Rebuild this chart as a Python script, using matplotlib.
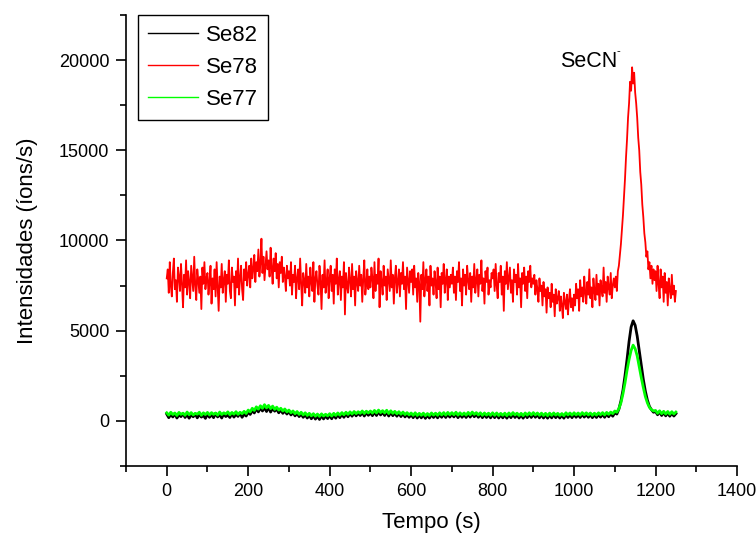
import numpy as np
import matplotlib

matplotlib.use('Agg')
import matplotlib.pyplot as plt
from matplotlib.ticker import MultipleLocator

plt.rcParams['font.family'] = ['Liberation Sans', 'DejaVu Sans']

# Se78 em unidades de 100 ions/s, um ponto a cada 2.5 s
se78 = [
    79, 84, 71, 88, 75, 69, 82, 90, 73, 78, 66, 85, 80, 72, 87, 76, 63, 81, 74, 89,
    70, 83, 77, 68, 86, 79, 72, 91, 75, 67, 84, 78, 71, 80, 62, 85, 76, 88, 73, 79,
    82, 70, 77, 86, 65, 79, 73, 84, 69, 88, 75, 61, 80, 74, 87, 71, 78, 83, 66, 81,
    76, 89, 72, 68, 85, 77, 80, 64, 83, 74, 90, 70, 79, 86, 73, 67, 84, 78, 88, 75,
    81, 86, 74, 90, 79, 84, 92, 77, 88, 83, 95, 80, 87, 101, 82, 91, 78, 86, 94, 84,
    89, 80, 96, 85, 76, 90, 83, 93, 79, 87, 74, 88, 82, 91, 77, 85, 80, 72, 86, 79,
    83, 75, 88, 70, 81, 77, 86, 68, 79, 84, 73, 90, 76, 64, 82, 78, 71, 87, 74, 80,
    69, 85, 77, 72, 88, 66, 79, 83, 75, 70, 86, 78, 62, 81, 74, 89, 71, 77, 84, 68,
    79, 86, 72, 81, 65, 84, 76, 90, 70, 78, 83, 67, 80, 74, 88, 59, 82, 75, 71, 85,
    78, 69, 87, 73, 80, 64, 83, 77, 72, 86, 75, 81, 66, 79, 89, 70, 76, 84, 73, 80,
    74, 85, 79, 68, 88, 72, 81, 76, 90, 63, 83, 77, 70, 86, 75, 80, 67, 84, 78, 72,
    89, 74, 81, 65, 79, 86, 71, 77, 84, 69, 82, 76, 88, 73, 80, 62, 85, 78, 71, 83,
    77, 84, 70, 86, 74, 79, 66, 82, 76, 55, 81, 73, 88, 69, 78, 84, 72, 80, 64, 86,
    75, 79, 70, 83, 77, 68, 85, 73, 80, 63, 82, 76, 87, 71, 78, 84, 67, 80, 74, 81,
    76, 85, 71, 80, 67, 83, 77, 88, 72, 79, 64, 84, 75, 81, 70, 86, 78, 73, 82, 66,
    80, 74, 87, 71, 78, 84, 69, 81, 76, 89, 72, 79, 65, 83, 77, 85, 70, 78, 74, 82,
    79, 84, 72, 87, 75, 68, 82, 77, 86, 70, 80, 61, 83, 76, 88, 73, 79, 85, 71, 78,
    66, 84, 77, 81, 70, 87, 74, 79, 63, 82, 76, 85, 72, 80, 68, 83, 77, 86, 74, 79,
    76, 81, 70, 78, 73, 66, 79, 72, 75, 64, 77, 69, 73, 60, 74, 68, 71, 63, 76, 66,
    70, 58, 73, 65, 68, 72, 61, 69, 64, 57, 71, 66, 62, 70, 59, 67, 73, 63, 68, 61,
    70, 64, 76, 68, 73, 61, 78, 69, 74, 66, 80, 71, 65, 77, 70, 84, 68, 74, 63, 79,
    72, 67, 81, 70, 76, 64, 78, 73, 69, 85, 71, 77, 66, 80, 74, 70, 82, 68, 75, 79,
    74, 80, 72, 83, 86, 92, 98, 106, 114, 124, 134, 146, 156, 168, 176, 188, 183, 196, 187, 193,
    182, 176, 168, 157, 150, 138, 131, 120, 113, 104, 99, 91, 94, 84, 88, 79, 86, 76, 84, 78,
    83, 72, 86, 76, 68, 84, 74, 80, 66, 82, 71, 77, 64, 79, 73, 68, 81, 70, 75, 66, 72,
]

# Se82 em unidades de 10 ions/s, um ponto a cada 5 s
se82 = [
    38, 18, 35, 22, 40, 16, 33, 24, 41, 19, 36, 15, 34, 23, 39, 17, 37, 21, 30, 14,
    38, 20, 35, 18, 42, 22, 36, 16, 39, 24, 33, 19, 41, 21, 37, 25, 43, 20, 38, 27,
    48, 36, 58, 44, 68, 50, 72, 55, 74, 52, 76, 49, 70, 54, 66, 45, 61, 42, 56, 38,
    52, 33, 46, 28, 42, 24, 38, 20, 34, 16, 31, 12, 29, 10, 27, 8, 30, 11, 28, 13,
    30, 12, 33, 15, 36, 18, 38, 20, 40, 23, 42, 26, 45, 28, 43, 30, 47, 27, 46, 31,
    45, 29, 49, 30, 51, 33, 48, 30, 50, 27, 47, 29, 44, 26, 42, 24, 40, 22, 37, 20,
    35, 18, 36, 16, 33, 17, 34, 14, 32, 16, 35, 19, 34, 17, 36, 20, 37, 19, 38, 21,
    37, 22, 39, 18, 36, 20, 35, 19, 38, 21, 40, 23, 37, 20, 36, 18, 35, 19, 34, 17,
    36, 18, 35, 16, 33, 17, 34, 15, 35, 18, 37, 19, 34, 16, 33, 15, 35, 18, 36, 19,
    37, 20, 35, 17, 34, 16, 33, 15, 34, 17, 35, 18, 33, 16, 32, 15, 36, 19, 35, 18,
    36, 20, 35, 19, 37, 21, 36, 20, 35, 18, 34, 19, 36, 21, 37, 20, 38, 23, 40, 26,
    45, 38, 65, 110, 170, 250, 340, 440, 520, 555, 530, 470, 390, 310, 230, 165, 115, 80, 62, 48,
    52, 34, 50, 30, 46, 28, 44, 26, 43, 27, 40,
]

# Se77 em unidades de 10 ions/s, um ponto a cada 5 s
se77 = [
    45, 32, 48, 35, 44, 30, 47, 36, 43, 31, 49, 34, 46, 33, 42, 37, 48, 31, 45, 35,
    47, 33, 46, 36, 44, 32, 49, 35, 45, 38, 50, 34, 47, 37, 51, 36, 48, 40, 53, 41,
    60, 50, 70, 58, 78, 65, 84, 70, 90, 72, 86, 68, 82, 64, 76, 60, 70, 55, 66, 50,
    60, 45, 55, 40, 52, 36, 48, 33, 45, 30, 42, 28, 40, 26, 38, 25, 39, 27, 37, 28,
    40, 27, 42, 30, 44, 32, 46, 34, 48, 36, 50, 38, 52, 40, 51, 42, 55, 41, 54, 44,
    55, 43, 58, 44, 60, 46, 57, 44, 59, 41, 56, 42, 53, 39, 51, 37, 49, 35, 46, 33,
    44, 31, 45, 30, 42, 31, 43, 29, 41, 30, 44, 32, 43, 31, 45, 33, 46, 32, 47, 34,
    46, 34, 48, 32, 45, 33, 44, 32, 47, 34, 49, 36, 46, 33, 45, 31, 44, 32, 43, 31,
    45, 31, 44, 30, 42, 31, 43, 29, 44, 32, 46, 33, 43, 30, 42, 29, 44, 32, 45, 33,
    46, 33, 44, 31, 43, 30, 42, 29, 43, 31, 44, 32, 42, 30, 41, 29, 45, 33, 44, 32,
    45, 33, 44, 32, 46, 34, 45, 33, 44, 31, 43, 32, 45, 34, 46, 33, 47, 36, 49, 40,
    55, 48, 68, 100, 150, 210, 280, 340, 390, 420, 400, 360, 300, 240, 185, 135, 100, 75, 62, 55,
    58, 42, 56, 40, 53, 38, 52, 37, 51, 38, 49,
]

t78 = np.arange(len(se78)) * 2.5
t82 = np.arange(len(se82)) * 5.0
t77 = np.arange(len(se77)) * 5.0
se78 = np.array(se78) * 100
se82 = np.array(se82) * 10
se77 = np.array(se77) * 10

fig = plt.figure(figsize=(7.56, 5.36), dpi=100)
ax = fig.add_axes([126 / 756, 70 / 536, 611 / 756, 451 / 536])

ax.plot(t82, se82, color='black', lw=2.0, label='Se82')
ax.plot(t78, se78, color='red', lw=1.3, label='Se78')
ax.plot(t77, se77, color='#00ff00', lw=2.0, label='Se77')

ax.set_xlim(-100, 1400)
ax.set_ylim(-2500, 22500)
ax.xaxis.set_major_locator(MultipleLocator(200))
ax.xaxis.set_minor_locator(MultipleLocator(100))
ax.yaxis.set_major_locator(MultipleLocator(5000))
ax.yaxis.set_minor_locator(MultipleLocator(2500))

for s in ['top', 'right']:
    ax.spines[s].set_visible(False)
for s in ['left', 'bottom']:
    ax.spines[s].set_linewidth(1.2)

ax.tick_params(which='major', direction='out', length=7, width=1.2, labelsize=13, pad=5)
ax.tick_params(which='minor', direction='out', length=4.5, width=1.2)

ax.set_xlabel('Tempo (s)', fontsize=16, labelpad=9)
ax.set_ylabel('Intensidades (íons/s)', fontsize=16, labelpad=15)

ax.text(966, 19945, 'SeCN', fontsize=15.5, ha='left', va='center')
ax.text(1108, 20500, '-', fontsize=8, ha='center', va='center')

# as linhas da legenda ficam finas como no original
leg = ax.legend(loc='upper left', bbox_to_anchor=(12 / 611, 1.0), borderaxespad=0,
                fontsize=16, handlelength=2.25, fancybox=False, framealpha=1,
                edgecolor='black', labelspacing=0.5, borderpad=0.45, handletextpad=0.35)
leg.get_frame().set_linewidth(1.0)
for line in leg.get_lines():
    line.set_linewidth(1.0)

fig.savefig('out.png', dpi=100)
